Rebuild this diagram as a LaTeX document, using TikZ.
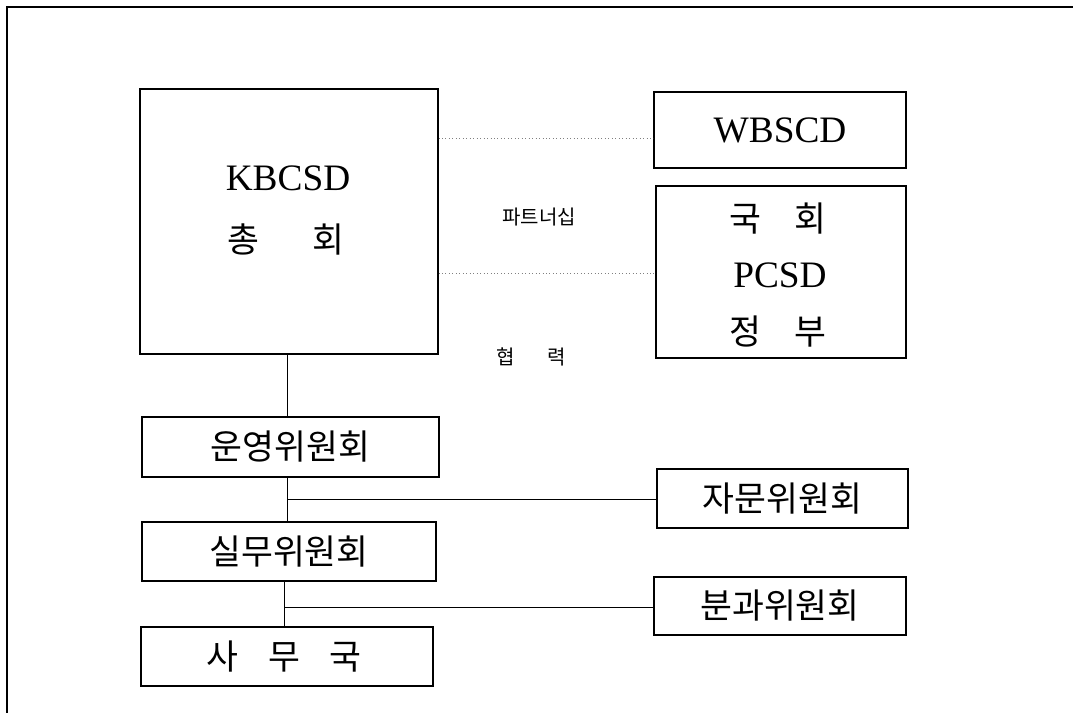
\documentclass[tikz,border=0pt]{standalone}
\usepackage{fontspec}
\setmainfont{Liberation Serif}
\newfontfamily\kor{Noto Sans CJK KR}
\usetikzlibrary{positioning}

\tikzset{
    orgbox/.style={draw, line width=0.8pt, inner sep=0pt},
    latin/.style={font=\fontsize{28}{30}\selectfont},
    hangul/.style={font=\kor\fontsize{26}{28}\selectfont},
    note/.style={font=\kor\fontsize{15}{16}\selectfont},
    link/.style={line width=0.6pt},
    partner/.style={gray, dotted, line width=0.6pt},
    frame/.style={line width=1.2pt}
}

\begin{document}
\begin{tikzpicture}[x=0.75pt, y=-0.75pt]
    \useasboundingbox (0,0) rectangle (1073,713);
    \draw[frame] (1073,7) -- (7,7) -- (7,713);

    \node[orgbox, minimum width=298*0.75pt, minimum height=265*0.75pt] (kbcsd) at (289,221.5) {};
    \node[latin] (kbcsdname) at (288,178) {KBCSD};
    \node[hangul] (kbcsdsub) at (286,239) {총\hspace{40pt}회};

    \node[orgbox, latin, minimum width=252*0.75pt, minimum height=76*0.75pt] (wbscd) at (780,130) {WBSCD};

    \node[orgbox, minimum width=250*0.75pt, minimum height=172*0.75pt] (pcsd) at (781,272) {};
    \node[hangul] (pcsdtop) at (778,219) {국\hspace{25pt}회};
    \node[latin] (pcsdname) at (780,275) {PCSD};
    \node[hangul] (pcsdbot) at (778,332) {정\hspace{25pt}부};

    \node[note] (partnership) at (539,217) {파트너십};
    \node[note] (cooperation) at (531,357) {협\hspace{24pt}력};

    \node[orgbox, hangul, minimum width=297*0.75pt, minimum height=60*0.75pt] (unyeong) at (290.5,447) {운영위원회};
    \node[orgbox, hangul, minimum width=294*0.75pt, minimum height=59*0.75pt] (silmu) at (289,551.5) {실무위원회};
    \node[orgbox, minimum width=292*0.75pt, minimum height=59*0.75pt] (samu) at (287,656.5) {};
    \node[hangul] (samutext) at (284,657) {사\hspace{22pt}무\hspace{22pt}국};
    \node[orgbox, hangul, minimum width=251*0.75pt, minimum height=59*0.75pt] (jamun) at (782.5,498.5) {자문위원회};
    \node[orgbox, hangul, minimum width=252*0.75pt, minimum height=58*0.75pt] (bungwa) at (780,606) {분과위원회};

    \coordinate (d1) at (0,138);
    \coordinate (d2) at (0,273);
    \draw[partner] (kbcsd.east |- d1) -- (wbscd.west |- d1);
    \draw[partner] (kbcsd.east |- d2) -- (pcsd.west |- d2);

    \coordinate (b0) at (287,0);
    \coordinate (b1) at (287,499);
    \coordinate (b2) at (284,607);
    \draw[link] (kbcsd.south -| b0) -- (unyeong.north -| b0);
    \draw[link] (unyeong.south -| b1) -- (silmu.north -| b1);
    \draw[link] (b1) -- (jamun.west |- b1);
    \draw[link] (silmu.south -| b2) -- (samu.north -| b2);
    \draw[link] (b2) -- (bungwa.west |- b2);
\end{tikzpicture}
\end{document}
